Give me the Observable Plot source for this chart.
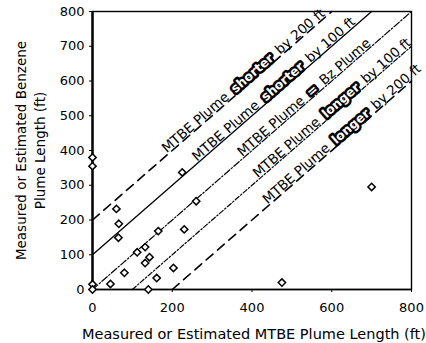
<!DOCTYPE html>
<html><head><meta charset="utf-8">
<script src="https://cdn.jsdelivr.net/npm/d3@7"></script>
<script src="https://cdn.jsdelivr.net/npm/@observablehq/plot@0.6"></script>
<style>body{margin:0;background:#fff} svg{display:block}</style>
</head><body><div id="chart"></div>
<script>
// Data
const mtbeLength    = [0,   0,   0,  0,  45, 60,  65,  66,  80, 112, 132, 132, 143, 165, 161, 140, 203, 230, 225, 260, 475, 700];
const benzeneLength = [380, 355, 15, 0,  16, 232, 149, 189, 48, 107, 122, 76,  93,  168, 33,  0,   62,  173, 337, 254, 20,  295];

const lineOffsets = [200, 100, 0, -100, -200];
const lineDash    = ["9,6", "none", "7,2,1.5,2", "5,2,1.5,2", "9,6"];
const lineWidth   = [1.6, 1.3, 1.2, 1.2, 1.6];

const labelPre    = ["MTBE Plume", "MTBE Plume", "MTBE Plume", "MTBE Plume", "MTBE Plume"];
const labelWord   = ["shorter", "shorter", "=", "longer", "longer"];
const labelPost   = ["by 200 ft", "by 100 ft", "Bz Plume", "by 100 ft", "by 200 ft"];
const labelCenter = [388, 464, 540, 610, 635];

const xTicks = [0, 200, 400, 600, 800];
const yTicks = [0, 100, 200, 300, 400, 500, 600, 700, 800];

const xTitle = "Measured or Estimated MTBE Plume Length (ft)";
const yTitle = "Measured or Estimated Benzene\nPlume Length (ft)";

const W = 426, H = 343, mL = 92, mR = 15, mT = 11, mB = 54;
const DOMAIN = [0, 800];
const kx = (W - mL - mR) / (DOMAIN[1] - DOMAIN[0]);
const ky = (H - mT - mB) / (DOMAIN[1] - DOMAIN[0]);
const k = Math.hypot(kx, ky);
const angle = Math.atan2(ky, kx) * 180 / Math.PI;

const points = mtbeLength.map((x, i) => ({x, y: benzeneLength[i]}));

const lines = lineOffsets.map((o, i) => {
  const x0 = Math.max(DOMAIN[0], DOMAIN[0] - o), x1 = Math.min(DOMAIN[1], DOMAIN[1] - o);
  return {i, pts: [{x: x0, y: x0 + o}, {x: x1, y: x1 + o}]};
});

// label parts placed along lines
const LFS = 13.5;
const ctx = document.createElement("canvas").getContext("2d");
const normalFont = `${LFS}px "DejaVu Sans"`;
const boldFont = `bold ${LFS - 1}px "DejaVu Sans"`;
ctx.font = normalFont;
const sp = ctx.measureText(" ").width;
const parts = [];
lineOffsets.forEach((o, i) => {
  ctx.font = normalFont;
  const w0 = ctx.measureText(labelPre[i]).width;
  const w2 = ctx.measureText(labelPost[i]).width;
  ctx.font = boldFont;
  const w1 = ctx.measureText(labelWord[i]).width;
  const g = sp + 3;
  const T = w0 + g + w1 + g + w2;
  const s = labelCenter[i] - T / 2 / k;
  const p1 = s + (w0 + g) / k;
  const p2 = p1 + (w1 + g) / k;
  parts.push({x: s, y: s + o, t: labelPre[i], circ: false});
  parts.push({x: p1, y: p1 + o, t: labelWord[i], circ: true});
  parts.push({x: p2, y: p2 + o, t: labelPost[i], circ: false});
});
const off = 1.5;
const pdx = -off * Math.sin(angle * Math.PI / 180);
const pdy = -off * Math.cos(angle * Math.PI / 180);

const chart = Plot.plot({
  width: W, height: H,
  marginLeft: mL, marginRight: mR, marginTop: mT, marginBottom: mB,
  style: {fontFamily: "DejaVu Sans", fontSize: "13px", color: "#000", background: "#fff"},
  x: {domain: DOMAIN, ticks: xTicks, tickSize: 3, tickPadding: 10, label: null, tickFormat: d => d},
  y: {domain: DOMAIN, ticks: yTicks, tickSize: 3, tickPadding: 5, label: null, tickFormat: d => d},
  marks: [
    Plot.frame({stroke: "#000", strokeWidth: 1.4}),
    ...lines.map(l => Plot.line(l.pts, {x: "x", y: "y", stroke: "#000",
      strokeWidth: lineWidth[l.i], strokeDasharray: lineDash[l.i]})),
    Plot.text(parts.filter(p => !p.circ), {x: "x", y: "y", text: "t", textAnchor: "start",
      lineAnchor: "bottom", rotate: -angle, fontSize: LFS, fill: "#000", dx: pdx, dy: pdy}),
    Plot.text(parts.filter(p => p.circ), {x: "x", y: "y", text: "t", textAnchor: "start",
      lineAnchor: "bottom", rotate: -angle, fontSize: LFS - 1, fill: "#fff", stroke: "#000",
      strokeWidth: 5, fontWeight: "bold", dx: pdx, dy: pdy}),
    Plot.ruleX([0], {stroke: "#000", strokeWidth: 2.4}),
    Plot.ruleY([0], {stroke: "#000", strokeWidth: 1.6}),
    Plot.dot(points, {x: "x", y: "y", symbol: "diamond2", r: 3.3, stroke: "#000",
      strokeWidth: 1.5, fill: "#fff"}),
    Plot.text([xTitle], {frameAnchor: "bottom", text: d => d, dy: 45, dx: 2,
      fontSize: 14.5, lineAnchor: "middle", textAnchor: "middle", fill: "#000"}),
    Plot.text([yTitle], {frameAnchor: "left", text: d => d, rotate: -90, dx: -63,
      fontSize: 13.5, lineAnchor: "middle", textAnchor: "middle", lineHeight: 1.4, fill: "#000"})
  ]
});
document.getElementById("chart").appendChild(chart);
</script>
</body></html>
